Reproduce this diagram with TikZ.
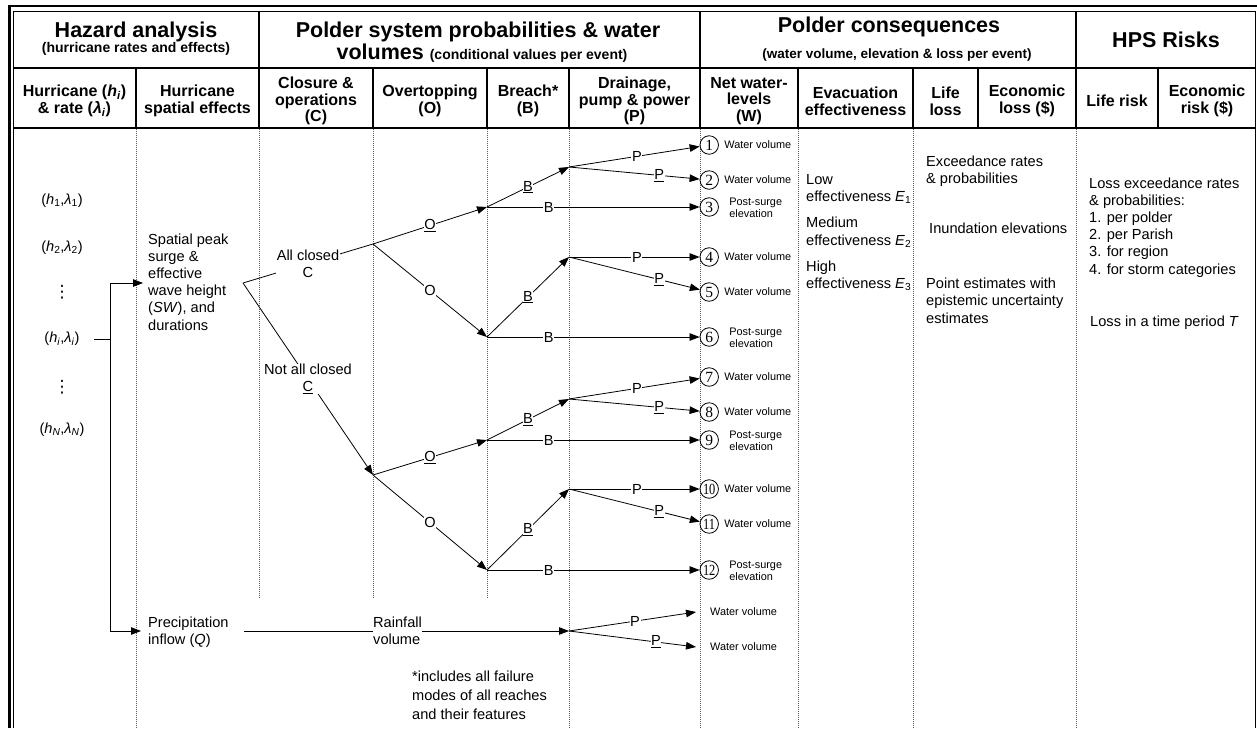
\documentclass[tikz,border=0pt]{standalone}
\usepackage{fontspec}
\usepackage{graphicx}
\setmainfont{Liberation Sans}
\newfontfamily\numfont{Liberation Serif}
\newfontfamily\djv{DejaVu Sans}
\usetikzlibrary{arrows.meta}
\newcommand\fbig{\fontsize{21.5}{23}\selectfont\bfseries}
\newcommand\fsubt{\fontsize{14}{16}\selectfont\bfseries}
\newcommand\fcol{\fontsize{16}{16.8}\selectfont\bfseries}
\newcommand\fbody{\fontsize{14.6}{17}\selectfont}
\newcommand\fsmall{\fontsize{10.9}{12.5}\selectfont}
\newcommand\fnum{\numfont\fontsize{15.5}{15.5}\selectfont}
\begin{document}
\begin{tikzpicture}[x=1pt,y=-1pt,
  hdr/.style={inner sep=0pt, align=center, font=\fcol},
  bigtxt/.style={inner sep=0pt, font=\fbig, anchor=base},
  bodytxt/.style={font=\fbody, inner sep=0pt, anchor=base west},
  lbl/.style={font=\fbody, fill=white, inner sep=0.6pt},
  sm/.style={font=\fsmall, inner sep=0pt, align=left, anchor=west},
  numc/.style={circle, draw, line width=0.8pt, minimum size=18.5pt, inner sep=0pt, font=\fnum},
  arr/.style={-{Triangle[length=10pt,width=7.5pt]}, line width=0.8pt},
  plain/.style={line width=0.8pt},
  gridln/.style={line width=1.6pt},
  bline/.style={line width=0.8pt, black!65, dash pattern=on 1pt off 1pt},
  vdot/.style={font=\djv\fontsize{17}{17}\selectfont, inner sep=0pt},
]
\useasboundingbox (0,0) rectangle (1257,728);
% ---------- frame ----------
\draw[line width=3pt] (9.5,4.5) -- (9.5,728);
\draw[line width=2.5pt] (8,6) -- (1257,6);
\draw[line width=1pt] (13.5,11) -- (13.5,728);
\draw[line width=1pt] (13,11) -- (1255.5,11) -- (1255.5,728);
\draw[gridln] (13,68) -- (1256,68);
\draw[gridln] (13,128) -- (1256,128);
\foreach \xx in {259,700,1076} \draw[gridln] (\xx,11) -- (\xx,68);
\foreach \xx in {136,259,373,487,569,700,798,913,978,1076,1158} \draw[gridln] (\xx,68) -- (\xx,128);
\foreach \xx in {136,569,700,798,913,1076} \draw[bline] (\xx,129) -- (\xx,728);
\foreach \xx in {259,373,487} \draw[bline] (\xx,129) -- (\xx,598);
% ---------- header row 1 ----------
\node[bigtxt] (hzA) at (136,37) {Hazard analysis};
\node[inner sep=0pt, font=\fsubt, anchor=base] (hzB) at (136,52) {(hurricane rates and effects)};
\node[bigtxt] (psA) at (478,37) {Polder system probabilities \& water};
\node[inner sep=0pt, anchor=base] (psB) at (482,59) {\fbig volumes \fsubt(conditional values per event)};
\node[bigtxt] (pcA) at (889,32.5) {Polder consequences};
\node[inner sep=0pt, font=\fontsize{13.5}{15}\selectfont\bfseries, anchor=base] (pcB) at (897,58) {(water volume, elevation \& loss per event)};
\node[inner sep=0pt, font=\fbig] (hps) at (1166,40) {HPS Risks};
% ---------- header row 2 ----------
\node[hdr] (hc1) at (74.5,101) {Hurricane (\textit{h}\textsubscript{\textit{i}})\\\& rate (\textit{λ}\textsubscript{\textit{i}})};
\node[hdr] (hc2) at (197.5,101) {Hurricane\\spatial effects};
\node[hdr] (hc3) at (316,101) {Closure \&\\operations\\(C)};
\node[hdr] (hc4) at (430,101) {Overtopping\\(O)};
\node[hdr] (hc5) at (528,101) {Breach*\\(B)};
\node[hdr] (hc6) at (634.5,101) {Drainage,\\pump \& power\\(P)};
\node[hdr] (hc7) at (749,101) {Net water-\\levels\\(W)};
\node[hdr] (hc8) at (855.5,101) {Evacuation\\effectiveness};
\node[hdr] (hc9) at (945.5,101) {Life\\loss};
\node[hdr] (hc10) at (1027,101) {Economic\\loss (\$)};
\node[hdr] (hc11) at (1117,101) {Life risk};
\node[hdr] (hc12) at (1207,101) {Economic\\risk (\$)};
% ---------- hurricanes ----------
\node[font=\fbody, inner sep=0pt] (h1) at (62,201) {(\textit{h}\textsubscript{1},\textit{λ}\textsubscript{1})};
\node[font=\fbody, inner sep=0pt] (h2) at (62,248) {(\textit{h}\textsubscript{2},\textit{λ}\textsubscript{2})};
\node[vdot] (d1) at (62,292) {⋮};
\node[font=\fbody, inner sep=0pt] (hi) at (62,339) {(\textit{h}\textsubscript{\textit{i}},\textit{λ}\textsubscript{\textit{i}})};
\node[vdot] (d2) at (62,387) {⋮};
\node[font=\fbody, inner sep=0pt] (hN) at (62,430) {(\textit{h}\textsubscript{\textit{N}},\textit{λ}\textsubscript{\textit{N}})};
\coordinate (bA) at (94,339);
\coordinate (bB) at (110,339);
\coordinate (bT) at (110,283);
\coordinate (bBot) at (110,631);
\coordinate (sIn) at (143,283);
\coordinate (qIn) at (141,631);
\draw[plain] (bA) -- (bB);
\draw[arr] (bB) -- (bT) -- (sIn);
\draw[arr] (bB) -- (bBot) -- (qIn);
% ---------- spatial effects ----------
\foreach \t/\yy [count=\k] in {Spatial peak/244, surge \&/261.2, effective/278.4, wave height/295.6, {(\textit{SW}), and}/312.8, durations/330}
  \node[bodytxt] (sp\k) at (148,\yy) {\t};
\foreach \t/\yy [count=\k] in {Precipitation/627, inflow (\textit{Q})/644}
  \node[bodytxt] (pr\k) at (148,\yy) {\t};
% ---------- tree coordinates ----------
\coordinate (SW) at (243,283);
\coordinate (CA) at (373,244);
\coordinate (CB) at (373,475);
\coordinate (B1) at (487,207);
\coordinate (B2) at (487,337);
\coordinate (B3) at (487,440);
\coordinate (B4) at (487,570);
\coordinate (P1) at (569,167);
\coordinate (P2) at (569,257);
\coordinate (P3) at (569,399);
\coordinate (P4) at (569,489);
\coordinate (P5) at (569,631);
\coordinate (rS) at (244,631);
\coordinate (w1) at (696,612);
\coordinate (w2) at (696,647);
% ---------- circles ----------
\foreach \n/\yy/\tx in {1/145/1,2/180/2,3/207/3,4/257/4,5/292/5,6/337/6,7/377/7,8/412/8,9/440/9,10/489/{\scalebox{0.8}[1]{10}},11/524/{\scalebox{0.8}[1]{11}},12/570/{\scalebox{0.8}[1]{12}}}
  \node[numc] (c\n) at (709.2,\yy) {\tx};
\foreach \n in {1,2,4,5,7,8,10,11}
  \node[sm] (wv\n) at ([xshift=15pt]c\n.center) {Water volume};
\foreach \n in {3,6,9,12}
  \node[sm] (ps\n) at ([xshift=20pt,yshift=-1pt]c\n.center) {Post-surge\\elevation};
% ---------- tree ----------
\draw[plain] (SW) -- node[lbl, align=center] (lAC) {All closed\\C} (CA);
\draw[arr] (SW) -- node[lbl, align=center] (lNC) {Not all closed\\\underline{C}} (CB);
\foreach \J/\Bu/\Bd in {CA/B1/B2, CB/B3/B4} {
  \draw[arr] (\J) -- node[lbl] {\underline{O}} (\Bu);
  \draw[arr] (\J) -- node[lbl] {O} (\Bd);
}
\foreach \Bx/\Px/\cc in {B1/P1/c3, B2/P2/c6, B3/P3/c9, B4/P4/c12} {
  \draw[arr] (\Bx) -- node[lbl] {\underline{B}} (\Px);
  \draw[arr] (\Bx) -- node[lbl, pos=0.29] {B} (\cc);
}
\foreach \Px/\ca/\cb in {P1/c1/c2, P2/c4/c5, P3/c7/c8, P4/c10/c11} {
  \draw[arr] (\Px) -- node[lbl, pos=0.52] {P} (\ca);
  \draw[arr] (\Px) -- node[lbl, pos=0.69] {\underline{P}} (\cb);
}
% ---------- precipitation branch ----------
\draw[arr] (rS) -- (P5);
\node[lbl, align=left, anchor=west] (rain) at (372.4,630.5) {Rainfall\\volume};
\draw[arr] (P5) -- node[lbl, pos=0.52] (lp9) {P} (w1);
\draw[arr] (P5) -- node[lbl, pos=0.685] (lp10) {\underline{P}} (w2);
\node[sm] (wv13) at (710,612) {Water volume};
\node[sm] (wv14) at (710,647) {Water volume};
\foreach \t/\yy [count=\k] in {*includes all failure/681, modes of all reaches/700, and their features/719}
  \node[bodytxt] (inc\k) at (412,\yy) {\t};
% ---------- consequences ----------
\foreach \t/\yy [count=\k] in {Low/184, effectiveness \textit{E}\textsubscript{1}/201.5, Medium/227.5, effectiveness \textit{E}\textsubscript{2}/245, High/271, effectiveness \textit{E}\textsubscript{3}/288.5}
  \node[bodytxt] (ev\k) at (806,\yy) {\t};
\foreach \t/\yy [count=\k] in {Exceedance rates/166, \& probabilities/183}
  \node[bodytxt] (ex\k) at (926,\yy) {\t};
\node[bodytxt] (inun) at (929,233) {Inundation elevations};
\foreach \t/\yy [count=\k] in {Point estimates with/288, epistemic uncertainty/305.5, estimates/323}
  \node[bodytxt] (pe\k) at (926,\yy) {\t};
% ---------- risks ----------
\foreach \t/\yy [count=\k] in {Loss exceedance rates/188, \& probabilities:/205, 1. per polder/222, 2. per Parish/239.5, 3. for region/256.5, 4. for storm categories/274}
  \node[bodytxt] (lr\k) at (1089,\yy) {\t};
\node[bodytxt] (ltp) at (1090,326) {Loss in a time period \textit{T}};
\end{tikzpicture}
\end{document}
